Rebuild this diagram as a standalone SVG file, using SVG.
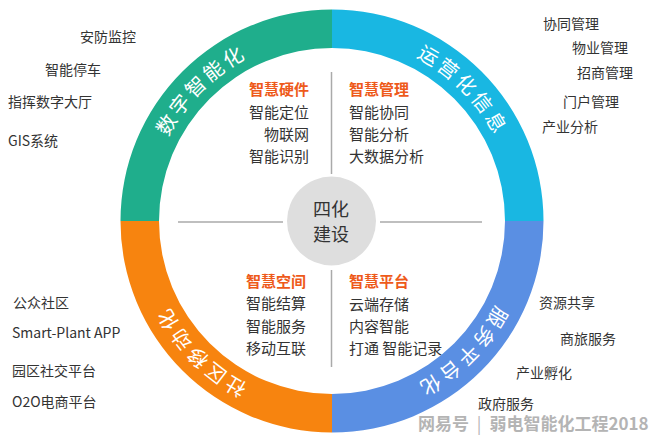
<svg xmlns="http://www.w3.org/2000/svg" xmlns:xlink="http://www.w3.org/1999/xlink" width="660" height="441" viewBox="0 0 660 441">
<style>
text{font-family:"Noto Sans CJK SC","Microsoft YaHei","Noto Sans",sans-serif;}
.ring{font-size:20px;fill:#ffffff;letter-spacing:3px;}
.head{font-size:15px;fill:#ee5a1a;font-weight:bold;}
.item{font-size:15px;fill:#333333;}
.out{font-size:14px;fill:#333333;}
.ctr{font-size:18px;fill:#333333;}
.div{stroke:#aaaaaa;stroke-width:1.5;fill:none;}
.wm{font-size:17px;fill:#b4b4b4;font-weight:bold;}
</style>
<defs>
<path id="rp" d="M148,221 A184,184 0 1 1 516,221 A184,184 0 1 1 148,221"/>
</defs>
<rect width="660" height="441" fill="#ffffff"/>

<g id="seg-digital">
<path d="M120.5,221 A211.5,211.5 0 0 1 332,9.5 L332,48 A173,173 0 0 0 159,221 Z" fill="#1fae8c"/>
<text class="ring" text-anchor="middle"><textPath xlink:href="#rp" href="#rp" startOffset="12.5%">数字智能化</textPath></text>
</g>
<g id="seg-operation">
<path d="M332,9.5 A211.5,211.5 0 0 1 543.5,221 L505,221 A173,173 0 0 0 332,48 Z" fill="#19b7e2"/>
<text class="ring" text-anchor="middle"><textPath xlink:href="#rp" href="#rp" startOffset="37.5%">运营化信息</textPath></text>
</g>
<g id="seg-service">
<path d="M543.5,221 A211.5,211.5 0 0 1 332,432.5 L332,394 A173,173 0 0 0 505,221 Z" fill="#5a8fe3"/>
<text class="ring" text-anchor="middle"><textPath xlink:href="#rp" href="#rp" startOffset="62.5%">服务平台化</textPath></text>
</g>
<g id="seg-community">
<path d="M332,432.5 A211.5,211.5 0 0 1 120.5,221 L159,221 A173,173 0 0 0 332,394 Z" fill="#f7840f"/>
<text class="ring" text-anchor="middle"><textPath xlink:href="#rp" href="#rp" startOffset="87.5%">社区移动化</textPath></text>
</g>

<g id="connectors">
<line class="div" x1="331.5" y1="72" x2="331.5" y2="174"/>
<line class="div" x1="331.5" y1="270" x2="331.5" y2="367"/>
<line class="div" x1="178" y1="222" x2="283" y2="222"/>
<line class="div" x1="380" y1="222" x2="482" y2="222"/>
</g>

<g id="center">
<circle cx="331.5" cy="221" r="44.5" fill="#dedede"/>
<text class="ctr" x="331" y="216" text-anchor="middle">四化</text>
<text class="ctr" x="331" y="241" text-anchor="middle">建设</text>
</g>

<g id="hardware" text-anchor="end">
<text class="head" x="309" y="95">智慧硬件</text>
<text class="item" x="309" y="118">智能定位</text>
<text class="item" x="309" y="140">物联网</text>
<text class="item" x="309" y="162">智能识别</text>
</g>
<g id="management">
<text class="head" x="349" y="95">智慧管理</text>
<text class="item" x="349" y="118">智能协同</text>
<text class="item" x="349" y="140">智能分析</text>
<text class="item" x="349" y="162">大数据分析</text>
</g>
<g id="space" text-anchor="end">
<text class="head" x="306" y="287">智慧空间</text>
<text class="item" x="306" y="309">智能结算</text>
<text class="item" x="306" y="332">智能服务</text>
<text class="item" x="306" y="354">移动互联</text>
</g>
<g id="platform">
<text class="head" x="349" y="287">智慧平台</text>
<text class="item" x="349" y="310">云端存储</text>
<text class="item" x="349" y="332">内容智能</text>
<text class="item" x="349" y="354">打通 智能记录</text>
</g>

<g id="outer-digital">
<text class="out" x="80" y="42">安防监控</text>
<text class="out" x="45" y="75">智能停车</text>
<text class="out" x="8" y="107">指挥数字大厅</text>
<text class="out" x="8" y="146">GIS系统</text>
</g>
<g id="outer-operation">
<text class="out" x="543" y="29">协同管理</text>
<text class="out" x="572" y="53">物业管理</text>
<text class="out" x="577" y="78">招商管理</text>
<text class="out" x="563" y="107">门户管理</text>
<text class="out" x="542" y="132">产业分析</text>
</g>
<g id="outer-community">
<text class="out" x="13" y="308">公众社区</text>
<text class="out" x="12" y="338">Smart-Plant APP</text>
<text class="out" x="12" y="376">园区社交平台</text>
<text class="out" x="12" y="407">O2O电商平台</text>
</g>
<g id="outer-service">
<text class="out" x="539" y="308">资源共享</text>
<text class="out" x="560" y="344">商旅服务</text>
<text class="out" x="516" y="378">产业孵化</text>
<text class="out" x="478" y="409">政府服务</text>
</g>

<text class="wm" x="418" y="430">网易号 <tspan font-weight="normal" dx="4">|</tspan><tspan dx="8">弱电智能化工程2018</tspan></text>
</svg>
